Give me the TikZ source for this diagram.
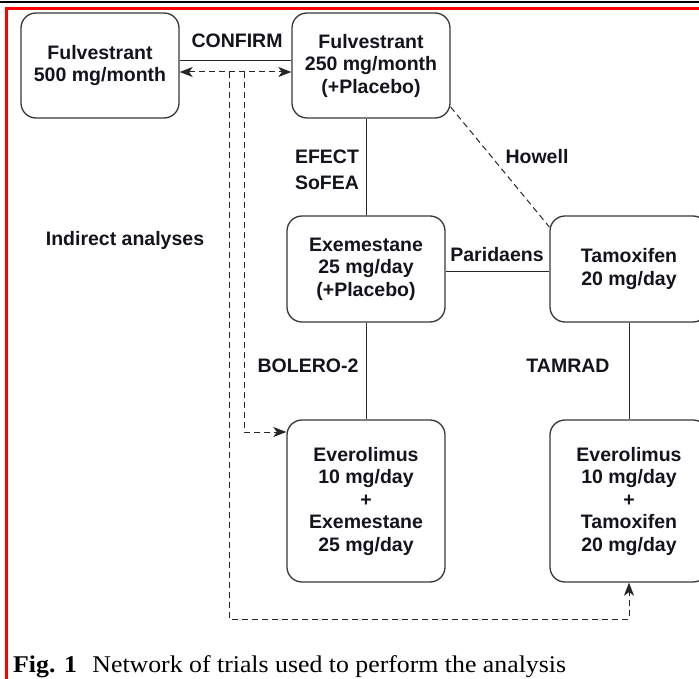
\documentclass[tikz,border=0pt]{standalone}
\usepackage{fontspec}
\setmainfont{Liberation Serif}
\newfontfamily\boxfont{Liberation Sans}
\usetikzlibrary{arrows.meta}
\definecolor{txt}{HTML}{14141E}
\definecolor{frame}{HTML}{FF0000}
\definecolor{lnc}{HTML}{262626}
\tikzset{
  drug/.style={draw=black!78, line width=1.3pt, rounded corners=15pt, inner sep=0pt,
    minimum width=158pt, text=txt, align=center,
    font=\boxfont\bfseries\fontsize{19.5}{22.5}\selectfont},
  lbl/.style={text=txt, align=center, inner sep=0pt,
    font=\boxfont\bfseries\fontsize{19.5}{26}\selectfont},
  trial/.style={draw=black!85, line width=0.9pt},
  indirect/.style={color=lnc, line width=1pt, dash pattern=on 6pt off 4pt},
  >={Stealth[length=13pt,width=10pt,inset=3.5pt]}
}
\begin{document}
\begin{tikzpicture}[x=1pt,y=1pt]
\clip (0,0) rectangle (699,-679);
\fill[white] (0,0) rectangle (699,-679);
% page rules
\draw[black, line width=2pt] (0,-2) -- (699,-2);
\draw[frame, line width=2.5pt] (699,-8.5) -- (6.5,-8.5) -- (6.5,-679);
% drug boxes
\node[drug, minimum height=105pt] (f500) at (100,-65.5) {Fulvestrant\\500 mg/month};
\node[drug, minimum height=105pt] (f250) at (371,-65.5) {Fulvestrant\\250 mg/month\\(+Placebo)};
\node[drug, minimum height=106pt] (exe) at (366,-269) {Exemestane\\25 mg/day\\(+Placebo)};
\node[drug, minimum height=106pt] (tam) at (629,-269) {Tamoxifen\\20 mg/day};
\node[drug, minimum height=162pt] (eve1) at (366,-501) {Everolimus\\10 mg/day\\+\\Exemestane\\25 mg/day};
\node[drug, minimum height=162pt] (eve2) at (629,-501) {Everolimus\\10 mg/day\\+\\Tamoxifen\\20 mg/day};
% direct trials
\draw[trial] ([yshift=5.5pt]f500.east) -- ([yshift=5.5pt]f500.east -| f250.west);
\draw[trial] (exe.north) -- (exe.north |- f250.south);
\draw[trial] ([yshift=-2pt]exe.east) -- ([yshift=-2pt]tam.west);
\draw[trial] (exe.south) -- (eve1.north);
\draw[trial] (tam.south) -- (eve2.north);
\draw[indirect] ([yshift=-41.5pt]f250.east) -- ([yshift=42pt]tam.west);
% trial labels
\node[lbl] (lconfirm) at (237,-41) {CONFIRM};
\node[lbl] (lefect) at (327,-170) {EFECT\\SoFEA};
\node[lbl] (lhowell) at (537,-157) {Howell};
\node[lbl] (lparid) at (497,-255) {Paridaens};
\node[lbl] (lbolero) at (308,-366) {BOLERO-2};
\node[lbl] (ltamrad) at (568,-366) {TAMRAD};
\node[lbl] (lindir) at (125,-240) {Indirect analyses};
% indirect analyses
\coordinate (ja) at (229,-72);
\coordinate (jb) at (244,-72);
\coordinate (bot) at (229,-619);
\draw[indirect, <->] ([yshift=-6.5pt]f500.east) -- ([yshift=-6.5pt]f250.west);
\draw[indirect, ->] (jb) |- ([yshift=69pt]eve1.west);
\draw[indirect, ->] (ja) -- (bot) -| (eve2.south);
% caption
\node[anchor=base west, inner sep=0pt, text=black] (cap) at (13,-672)
  {\scalebox{1.075}[1]{\fontsize{24}{27}\selectfont\textbf{Fig. 1}\hspace{0.6em}Network of trials used to perform the analysis}};
\end{tikzpicture}
\end{document}
